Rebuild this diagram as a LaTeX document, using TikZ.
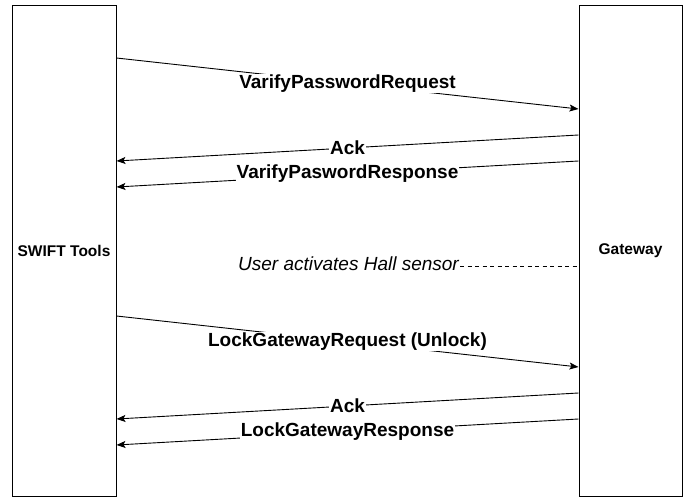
\documentclass[tikz,border=0pt]{standalone}
\usepackage{fontspec}
\setmainfont{Liberation Sans}
\usetikzlibrary{arrows.meta,positioning}

\tikzset{
  party/.style={rectangle, draw, line width=1pt, minimum width=104, minimum height=490, font=\fontsize{15.5}{18}\selectfont\bfseries},
  msg/.style={line width=0.9pt, -{Stealth[length=9pt,width=7pt,inset=2pt]}},
  lbl/.style={fill=white, inner sep=1pt, font=\fontsize{19}{22}\selectfont\bfseries},
  note/.style={inner sep=1pt, font=\fontsize{19}{22}\selectfont\itshape}
}

\begin{document}
\begin{tikzpicture}[x=1pt,y=-1pt]
    \useasboundingbox (0,0) rectangle (686,497);
    \node(tools) [party] at (64,251) {SWIFT Tools};
    \node(gateway) [party, minimum width=103] at (630.5,251) {Gateway};

    % password check
    \draw[msg] (tools.east |- 0,58) -- node[lbl]{VarifyPasswordRequest} (gateway.west |- 0,109);
    \draw[msg] (gateway.west |- 0,135) -- node[lbl]{Ack} (tools.east |- 0,161);
    \draw[msg] (gateway.west |- 0,161) -- node[lbl]{VarifyPaswordResponse} (tools.east |- 0,187);

    % sensor
    \node(hall) [note] at (348.5,263.5) {User activates Hall sensor};
    \draw[line width=0.8pt, dash pattern=on 4pt off 3.5pt] (hall.east |- 0,266) -- (gateway.west |- 0,266);

    % unlock
    \draw[msg] (tools.east |- 0,316) -- node[lbl]{LockGatewayRequest (Unlock)} (gateway.west |- 0,367);
    \draw[msg] (gateway.west |- 0,393) -- node[lbl]{Ack} (tools.east |- 0,419);
    \draw[msg] (gateway.west |- 0,419) -- node[lbl]{LockGatewayResponse} (tools.east |- 0,445);
  \end{tikzpicture}
\end{document}
